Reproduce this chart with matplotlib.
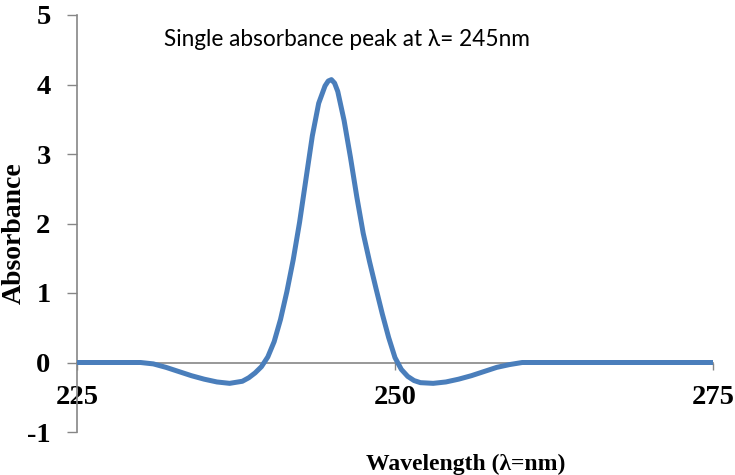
import matplotlib
matplotlib.use('Agg')
import matplotlib.pyplot as plt

plt.rcParams['axes.unicode_minus'] = False

# wavelength (nm) and absorbance
wavelength = [225, 226, 227, 228, 229, 230, 231, 232, 233, 234, 235, 236,
              237, 238, 238.5, 239, 239.5, 240, 240.5, 241, 241.5, 242,
              242.5, 243, 243.5, 244, 244.5, 244.75, 245, 245.25, 245.5,
              246, 246.5, 247, 247.5, 248, 248.5, 249, 249.5, 250, 250.5,
              251, 251.5, 252, 253, 254, 255, 256, 257, 258, 259, 260, 262,
              265, 270, 275]
absorbance = [0, 0, 0, 0, 0, 0, -0.02, -0.07, -0.13, -0.19, -0.24, -0.28,
              -0.30, -0.27, -0.22, -0.15, -0.06, 0.08, 0.3, 0.62, 1.02, 1.48,
              2.02, 2.64, 3.26, 3.73, 3.98, 4.05, 4.07, 4.02, 3.9,
              3.48, 2.95, 2.38, 1.86, 1.45, 1.07, 0.7, 0.36, 0.07, -0.1,
              -0.2, -0.26, -0.29, -0.30, -0.28, -0.24, -0.19, -0.13, -0.07,
              -0.03, 0, 0, 0, 0, 0]

x_ticks = [225, 250, 275]
y_ticks = [-1, 0, 1, 2, 3, 4, 5]

grey = '#868686'
serif = 'Liberation Serif'

fig = plt.figure(figsize=(7.35, 4.75), dpi=100)
ax = fig.add_axes([77/735, 43/475, 636/735, 417/475])

ax.plot(wavelength, absorbance, color='#4A7EBB', lw=3.6,
        solid_joinstyle='round', solid_capstyle='butt', zorder=3)

ax.set_xlim(225, 275)
ax.set_ylim(-1, 5)

ax.spines['top'].set_visible(False)
ax.spines['right'].set_visible(False)
ax.spines['bottom'].set_position(('data', 0))
ax.spines['left'].set_color(grey)
ax.spines['bottom'].set_color(grey)
ax.spines['left'].set_linewidth(1.2)
ax.spines['bottom'].set_linewidth(1.2)

ax.set_xticks(x_ticks)
ax.set_yticks(y_ticks)
ax.tick_params(axis='x', direction='out', length=5, width=1, color=grey, pad=11)
ax.tick_params(axis='y', direction='out', length=7, width=1, color=grey, pad=12)
for lab in ax.get_xticklabels() + ax.get_yticklabels():
    lab.set_fontfamily(serif)
    lab.set_fontweight('bold')
    lab.set_fontsize(20.5)

fig.text(347/735, 1 - 40/475, 'Single absorbance peak at λ= 245nm',
         family='Lato', fontsize=16.3, ha='center', va='center')
fig.text(466/735, 1 - 470/475, 'Wavelength (λ=nm)', family=serif,
         fontweight='bold', fontsize=17, ha='center', va='baseline')
fig.text(14/735, 1 - 233/475, 'Absorbance', family=serif,
         fontweight='bold', fontsize=20, ha='center', va='center', rotation=90)

plt.savefig('out.png', dpi=100)
